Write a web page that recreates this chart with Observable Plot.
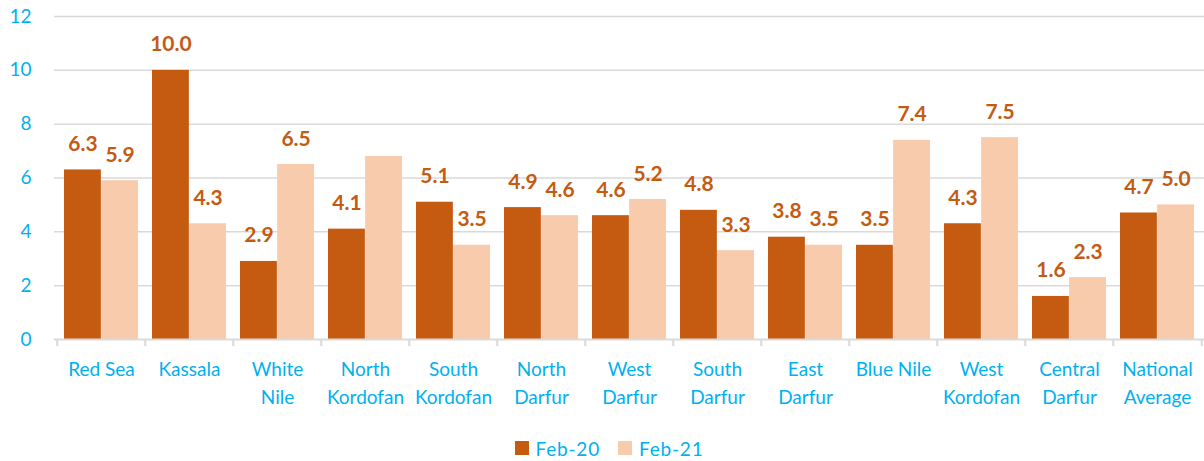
<!DOCTYPE html>
<html>
<head>
<meta charset="utf-8">
<script src="https://cdn.jsdelivr.net/npm/d3@7"></script>
<script src="https://cdn.jsdelivr.net/npm/@observablehq/plot@0.6"></script>
<style>
  body { margin: 0; background: #fff; font-family: Lato, "Open Sans", sans-serif; }
  #legend { display: flex; justify-content: center; align-items: center; height: 36px; padding-top: 5px; padding-left: 14px; font-size: 19px; color: #00B0F0; letter-spacing: 0.8px; }
  .sw { display: inline-flex; align-items: center; margin: 0 9px; }
  .sw i { display: inline-block; width: 14px; height: 14px; margin-right: 7px; }
</style>
</head>
<body>
<div id="chart"></div>
<div id="legend"></div>
<script>
const categories = ["Red Sea", "Kassala", "White\nNile", "North\nKordofan", "South\nKordofan", "North\nDarfur", "West\nDarfur", "South\nDarfur", "East\nDarfur", "Blue Nile", "West\nKordofan", "Central\nDarfur", "National\nAverage"];
const series = ["Feb-20", "Feb-21"];
const feb20 = [6.3, 10.0, 2.9, 4.1, 5.1, 4.9, 4.6, 4.8, 3.8, 3.5, 4.3, 1.6, 4.7];
const feb21 = [5.9, 4.3, 6.5, 6.8, 3.5, 4.6, 5.2, 3.3, 3.5, 7.4, 7.5, 2.3, 5.0];
const feb21Labels = ["5.9", "4.3", "6.5", null, "3.5", "4.6", "5.2", "3.3", "3.5", "7.4", "7.5", "2.3", "5.0"];
const yTicks = [0, 2, 4, 6, 8, 10, 12];
const colors = ["#C55A11", "#F8CBAD"];

const W = 1204, H = 425, mL = 54, mR = 0, mT = 16, mB = 86;
const pIn = 0.16, pOut = 0.08;
const step = (W - mL - mR) / (categories.length - pIn + 2 * pOut);
const half = step * (1 - pIn) / 2;

const d20 = categories.map((c, i) => ({cat: c, v: feb20[i], label: feb20[i].toFixed(1)}));
const d21 = categories.map((c, i) => ({cat: c, v: feb21[i], label: feb21Labels[i]}));

const blue = "#00B0F0";
const chart = Plot.plot({
  width: W, height: H,
  marginLeft: mL, marginRight: mR, marginTop: mT, marginBottom: mB,
  style: {fontFamily: "Lato, 'Open Sans', sans-serif", background: "#fff"},
  x: {domain: categories, paddingInner: pIn, paddingOuter: pOut, axis: null},
  y: {domain: [0, 12], axis: null},
  marks: [
    Plot.ruleY(yTicks.filter(t => t > 0), {stroke: "#D9D9D9", strokeWidth: 1.5}),
    Plot.barY(d20, {x: "cat", y: "v", fill: colors[0], insetRight: half}),
    Plot.barY(d21, {x: "cat", y: "v", fill: colors[1], insetLeft: half}),
    Plot.ruleY([0], {stroke: "#D9D9D9", strokeWidth: 2}),
    Plot.ruleX(categories, {x: d => d, y1: 0, y2: 0, insetBottom: -7, dx: -step / 2, stroke: "#D9D9D9", strokeWidth: 2}),
    Plot.ruleX(categories.slice(-1), {x: d => d, y1: 0, y2: 0, insetBottom: -7, dx: step / 2, stroke: "#D9D9D9", strokeWidth: 2}),
    Plot.text(d20, {x: "cat", y: "v", text: "label", dx: -half / 2, dy: -19, lineAnchor: "bottom", fill: "#C55A11", fontSize: 21, fontWeight: "bold"}),
    Plot.text(d21.filter(d => d.label), {x: "cat", y: "v", text: "label", dx: half / 2, dy: -19, lineAnchor: "bottom", fill: "#C55A11", fontSize: 21, fontWeight: "bold"}),
    Plot.axisY(yTicks, {label: null, tickSize: 0, tickPadding: 23, fontSize: 19, fill: blue, color: blue}),
    Plot.axisX({label: null, tickSize: 0, tickPadding: 17, fontSize: 19, fill: blue, color: blue, lineHeight: 1.45, lineAnchor: "top", style: {letterSpacing: "0.6px"}})
  ]
});
document.getElementById("chart").appendChild(chart);

const leg = document.getElementById("legend");
series.forEach((s, i) => {
  const el = document.createElement("span");
  el.className = "sw";
  el.innerHTML = `<i style="background:${colors[i]}"></i>${s}`;
  leg.appendChild(el);
});
</script>
</body>
</html>
